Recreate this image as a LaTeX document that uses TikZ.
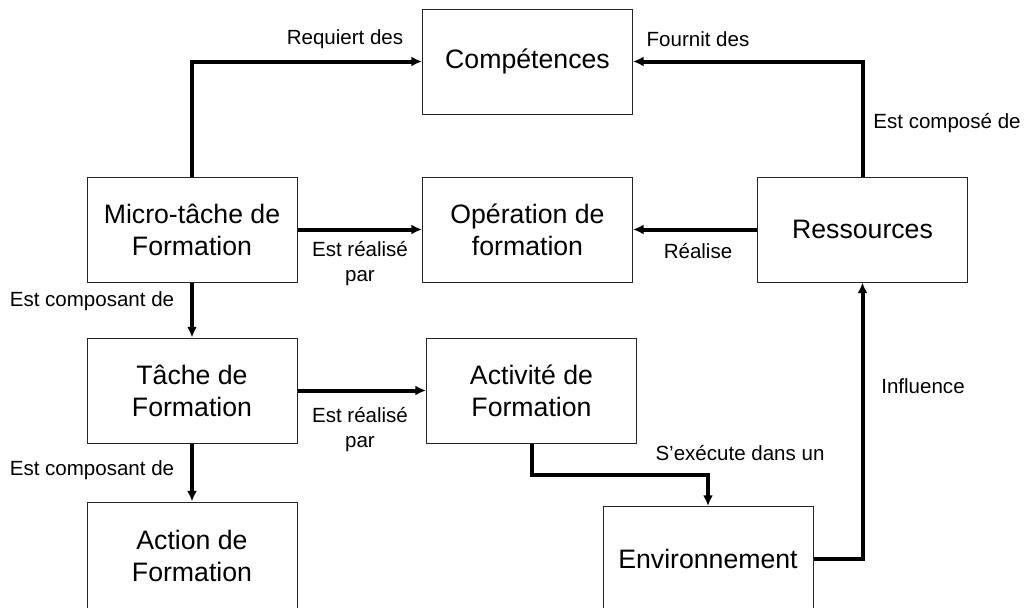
\documentclass[tikz,border=0pt]{standalone}
\usepackage{fontspec}
\setmainfont{Liberation Sans}
\usetikzlibrary{arrows.meta}

\begin{document}
\begin{tikzpicture}[x=0.75pt,y=-0.75pt,>=Latex,
  concept/.style={draw=black!85,line width=0.75pt,minimum width=157.5pt,minimum height=78.75pt,align=center,font=\fontsize{20}{24}\selectfont,inner sep=0pt},
  relation/.style={line width=3pt,-{Latex[length=8pt,width=7.5pt]}},
  rellabel/.style={align=center,font=\fontsize{15.4}{18.8}\selectfont,inner sep=0pt}]
\clip (0,0) rectangle (1024,607);
% concepts
\node[concept] (comp) at (527.5,61.5) {Compétences};
\node[concept] (micro) at (192,229.5) {Micro-tâche de\\Formation};
\node[concept] (oper) at (527.5,229.5) {Opération de\\formation};
\node[concept] (res) at (862.5,229.5) {Ressources};
\node[concept] (tache) at (192,390.5) {Tâche de\\Formation};
\node[concept] (activ) at (531.5,390.5) {Activité de\\Formation};
\node[concept, minimum height=81pt] (action) at (192,556) {Action de\\Formation};
\node[concept] (env) at (708,559) {Environnement};
% relations
\draw[relation] (micro.north) |- (comp.west);
\draw[relation] (res.north) |- (comp.east);
\draw[relation] (micro.east) -- (oper.west);
\draw[relation] (res.west) -- (oper.east);
\draw[relation] (micro.south) -- (tache.north);
\draw[relation] (tache.south) -- (action.north);
\draw[relation] (tache.east) -- (activ.west);
\draw[relation] (activ.south) -- ++(0,31) -| (env.north);
\draw[relation] (env.east) -| (res.south);
% labels
\node[rellabel] (l_req) at (345,39) {Requiert des};
\node[rellabel] (l_four) at (698,39) {Fournit des};
\node[rellabel] (l_comp) at (947,123) {Est composé de};
\node[rellabel] (l_real1) at (360,264) {Est réalisé\\par};
\node[rellabel] (l_real2) at (698,251) {Réalise};
\node[rellabel] (l_cmp1) at (92,301) {Est composant de};
\node[rellabel] (l_cmp2) at (92,470) {Est composant de};
\node[rellabel] (l_real3) at (360,430) {Est réalisé\\par};
\node[rellabel] (l_infl) at (923,386) {Influence};
\node[rellabel] (l_exec) at (740,453) {S’exécute dans un};
\end{tikzpicture}
\end{document}
